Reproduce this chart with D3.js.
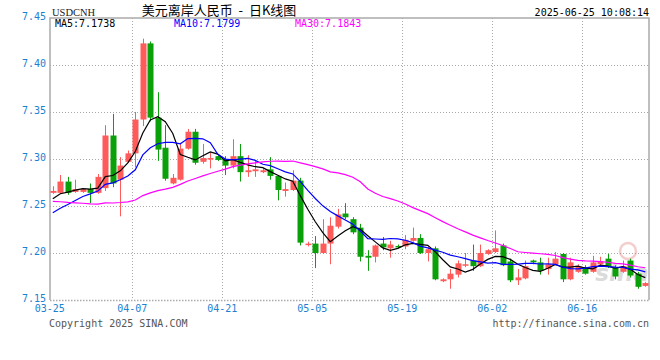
<!DOCTYPE html>
<html>
<head>
<meta charset="utf-8">
<script src="https://cdn.jsdelivr.net/npm/d3@7/dist/d3.min.js"></script>
<style>
  body { margin: 0; background: #fff; }
  text { font-family: "DejaVu Sans Mono", monospace; }
</style>
</head>
<body>
<div id="chart"></div>
<script>
// trading days (Mon-Sat sessions)
var dates = ['03-25','03-26','03-27','03-28','03-29','03-31',
  '04-01','04-02','04-03','04-04','04-05','04-07','04-08','04-09','04-10','04-11','04-12',
  '04-14','04-15','04-16','04-17','04-18','04-19','04-21','04-22','04-23','04-24','04-25','04-26',
  '04-28','04-29','04-30','05-01','05-02','05-03','05-05','05-06','05-07','05-08','05-09','05-10',
  '05-12','05-13','05-14','05-15','05-16','05-17','05-19','05-20','05-21','05-22','05-23','05-24',
  '05-26','05-27','05-28','05-29','05-30','05-31','06-02','06-03','06-04','06-05','06-06','06-07',
  '06-09','06-10','06-11','06-12','06-13','06-14','06-16','06-17','06-18','06-19','06-20','06-21',
  '06-23','06-24','06-25'];

var opens = [7.264,7.264,7.276,7.265,7.265,7.268,7.264,7.269,7.325,7.278,
  7.297,7.306,7.342,7.423,7.344,7.312,7.274,7.278,7.311,7.329,
  7.297,7.300,7.303,7.300,7.293,7.303,7.286,7.287,7.286,7.289,
  7.282,7.266,7.267,7.277,7.209,7.210,7.200,7.210,7.228,7.242,
  7.236,7.227,7.197,7.196,7.210,7.205,7.2075,7.207,7.213,7.216,
  7.200,7.205,7.170,7.172,7.177,7.187,7.192,7.186,7.199,7.201,
  7.208,7.191,7.171,7.173,7.192,7.190,7.183,7.188,7.199,7.172,
  7.180,7.185,7.180,7.188,7.194,7.185,7.180,7.192,7.178,7.165];

var highs = [7.271,7.283,7.281,7.278,7.269,7.274,7.284,7.336,7.348,7.302,
  7.309,7.350,7.428,7.425,7.371,7.336,7.284,7.317,7.332,7.332,
  7.316,7.307,7.304,7.303,7.321,7.316,7.304,7.298,7.290,7.302,
  7.283,7.275,7.288,7.280,7.212,7.218,7.236,7.238,7.247,7.253,
  7.238,7.231,7.203,7.209,7.217,7.213,7.209,7.219,7.227,7.220,
  7.207,7.207,7.173,7.183,7.192,7.200,7.209,7.209,7.204,7.224,
  7.210,7.194,7.183,7.192,7.193,7.195,7.195,7.201,7.200,7.195,
  7.188,7.187,7.197,7.196,7.199,7.187,7.192,7.194,7.180,7.169];

var lows = [7.263,7.263,7.262,7.264,7.264,7.253,7.263,7.266,7.270,7.239,
  7.296,7.291,7.335,7.340,7.298,7.277,7.273,7.277,7.310,7.294,
  7.295,7.290,7.298,7.283,7.290,7.276,7.281,7.281,7.285,7.278,
  7.256,7.260,7.266,7.208,7.207,7.184,7.199,7.188,7.226,7.236,
  7.220,7.191,7.181,7.190,7.203,7.195,7.205,7.204,7.212,7.199,
  7.191,7.171,7.169,7.162,7.174,7.185,7.181,7.185,7.198,7.200,
  7.186,7.169,7.166,7.172,7.188,7.177,7.177,7.187,7.169,7.171,
  7.179,7.177,7.179,7.187,7.184,7.172,7.179,7.174,7.162,7.164];

var closes = [7.266,7.276,7.264,7.268,7.268,7.264,7.281,7.325,7.274,7.293,
  7.306,7.342,7.423,7.344,7.310,7.279,7.280,7.311,7.329,7.296,
  7.301,7.301,7.299,7.293,7.303,7.286,7.288,7.289,7.288,7.282,
  7.267,7.268,7.277,7.211,7.210,7.200,7.210,7.229,7.241,7.238,
  7.222,7.196,7.195,7.208,7.206,7.209,7.2065,7.214,7.216,7.200,
  7.204,7.172,7.172,7.178,7.189,7.188,7.186,7.200,7.203,7.205,
  7.187,7.171,7.174,7.186,7.190,7.181,7.188,7.194,7.172,7.190,
  7.186,7.178,7.190,7.191,7.185,7.175,7.186,7.176,7.164,7.168];

// closes of the 29 sessions before 03-25, needed for the moving averages
var preCloses = [7.290,7.285,7.282,7.280,7.286,7.286,7.284,7.280,7.278,7.283,7.285,7.281,
  7.258,7.240,7.230,7.222,7.218,7.220,7.216,7.216,
  7.228,7.226,7.224,7.226,7.236,7.250,7.255,7.258,7.260];

var yTicks = [7.15, 7.20, 7.25, 7.30, 7.35, 7.40, 7.45];
var xTickLabels = ['03-25','04-07','04-21','05-05','05-19','06-02','06-16'];
var maPeriods = [5, 10, 30];
var maColors = ['#000000', '#0000ff', '#ff00ff'];

(function(d3) {
  'use strict';

  var width = 660, height = 360;
  var plotLeft = 50, plotRight = 649, plotTop = 18, plotBottom = 300;

  var svg = d3.select('#chart').append('svg')
    .attr('width', width)
    .attr('height', height);

  var x = d3.scalePoint().domain(dates).range([52.8, 645.3]);
  var y = d3.scaleLinear().domain([7.15, 7.45]).range([plotBottom, plotTop]);

  // moving averages
  var allCloses = preCloses.concat(closes);
  var ma = maPeriods.map(function(p) {
    return closes.map(function(c, i) {
      var j = i + preCloses.length;
      return d3.mean(allCloses.slice(j - p + 1, j + 1));
    });
  });

  // grid
  svg.append('g').selectAll('line')
    .data(yTicks.slice(1, -1))
    .enter().append('line')
    .attr('x1', plotLeft).attr('x2', plotRight)
    .attr('y1', function(d) { return Math.round(y(d)) + 0.5; })
    .attr('y2', function(d) { return Math.round(y(d)) + 0.5; })
    .attr('stroke', '#aaa')
    .attr('stroke-dasharray', '1,2');

  svg.append('g').selectAll('line')
    .data(xTickLabels.slice(1))
    .enter().append('line')
    .attr('x1', function(d) { return Math.round(x(d) - 3) + 0.5; })
    .attr('x2', function(d) { return Math.round(x(d) - 3) + 0.5; })
    .attr('y1', plotTop).attr('y2', plotBottom)
    .attr('stroke', '#aaa')
    .attr('stroke-dasharray', '1,2');

  // frame
  svg.append('path')
    .attr('d', 'M' + plotLeft + ',' + plotBottom + 'V' + plotTop + 'H' + plotRight + 'V' + plotBottom)
    .attr('fill', 'none')
    .attr('stroke', '#aaa')
    .attr('stroke-width', 1.5);
  svg.append('line')
    .attr('x1', plotLeft).attr('x2', plotRight)
    .attr('y1', plotBottom + 0.5).attr('y2', plotBottom + 0.5)
    .attr('stroke', '#aaa')
    .attr('stroke-width', 1.5)
    .attr('stroke-dasharray', '1.5,1.5');

  // watermark
  var wm = svg.append('g').attr('opacity', 0.35);
  wm.append('circle').attr('cx', 628).attr('cy', 251).attr('r', 8)
    .attr('fill', 'none').attr('stroke', '#e07070').attr('stroke-width', 2.5);
  wm.append('text').attr('x', 622).attr('y', 281)
    .attr('text-anchor', 'middle')
    .style('font-family', '"DejaVu Sans", sans-serif')
    .style('font-size', '23px').style('font-weight', 'bold').style('font-style', 'italic')
    .attr('fill', '#999')
    .text('sina');

  // candles
  var idx = d3.range(dates.length);
  var candles = svg.append('g').selectAll('g')
    .data(idx)
    .enter().append('g');

  function col(i) { return closes[i] >= opens[i] ? '#ff5b5b' : '#0aa00a'; }

  candles.append('line')
    .attr('x1', function(i) { return Math.round(x(dates[i])) + 0.5; })
    .attr('x2', function(i) { return Math.round(x(dates[i])) + 0.5; })
    .attr('y1', function(i) { return y(highs[i]); })
    .attr('y2', function(i) { return y(lows[i]); })
    .attr('stroke', col);

  candles.append('rect')
    .attr('x', function(i) { return Math.round(x(dates[i])) - 2.5; })
    .attr('width', 6)
    .attr('y', function(i) { return y(Math.max(opens[i], closes[i])); })
    .attr('height', function(i) {
      return Math.max(1.5, y(Math.min(opens[i], closes[i])) - y(Math.max(opens[i], closes[i])));
    })
    .attr('fill', col);

  // MA lines
  var line = d3.line()
    .x(function(d, i) { return x(dates[i]); })
    .y(function(d) { return y(d); });

  svg.append('g').selectAll('path')
    .data(ma)
    .enter().append('path')
    .attr('d', line)
    .attr('fill', 'none')
    .attr('stroke', function(d, i) { return maColors[i]; })
    .attr('stroke-width', 1.2);

  // y labels
  svg.append('g').selectAll('text')
    .data(yTicks)
    .enter().append('text')
    .attr('x', 46)
    .attr('y', function(d) { return y(d) + 2; })
    .attr('text-anchor', 'end')
    .attr('fill', '#1a82d2')
    .style('font-size', '10px')
    .text(function(d) { return d.toFixed(2); });

  // x labels
  svg.append('g').selectAll('text')
    .data(xTickLabels)
    .enter().append('text')
    .attr('x', function(d) { return x(d) - 3; })
    .attr('y', 312)
    .attr('text-anchor', 'middle')
    .attr('fill', '#1a82d2')
    .style('font-size', '10px')
    .text(function(d) { return d; });

  // header
  svg.append('text')
    .attr('x', 52).attr('y', 16)
    .style('font-family', '"Liberation Serif", serif')
    .style('font-size', '10.5px')
    .attr('fill', '#222')
    .text('USDCNH');

  svg.append('text')
    .attr('x', 219).attr('y', 15)
    .attr('text-anchor', 'middle')
    .style('font-family', '"Noto Sans CJK SC", sans-serif')
    .style('font-size', '13px')
    .style('white-space', 'pre')
    .attr('fill', '#000')
    .text('美元离岸人民币  -  日K线图');

  svg.append('text')
    .attr('x', 649).attr('y', 16)
    .attr('text-anchor', 'end')
    .style('font-size', '10px')
    .attr('fill', '#000')
    .text('2025-06-25 10:08:14');

  var maLabelX = [55, 174, 295];
  svg.append('g').selectAll('text')
    .data(maPeriods)
    .enter().append('text')
    .attr('x', function(d, i) { return maLabelX[i]; })
    .attr('y', 27)
    .attr('fill', function(d, i) { return maColors[i]; })
    .style('font-size', '10px')
    .text(function(d, i) { return 'MA' + d + ':' + ma[i][ma[i].length - 1].toFixed(4); });

  // footer
  svg.append('text')
    .attr('x', 49).attr('y', 327)
    .attr('fill', '#555')
    .style('font-size', '10px')
    .text('Copyright 2025 SINA.COM');

  svg.append('text')
    .attr('x', 649).attr('y', 327)
    .attr('text-anchor', 'end')
    .attr('fill', '#555')
    .style('font-size', '10px')
    .text('http://finance.sina.com.cn');
})(window.d3);
</script>
</body>
</html>
